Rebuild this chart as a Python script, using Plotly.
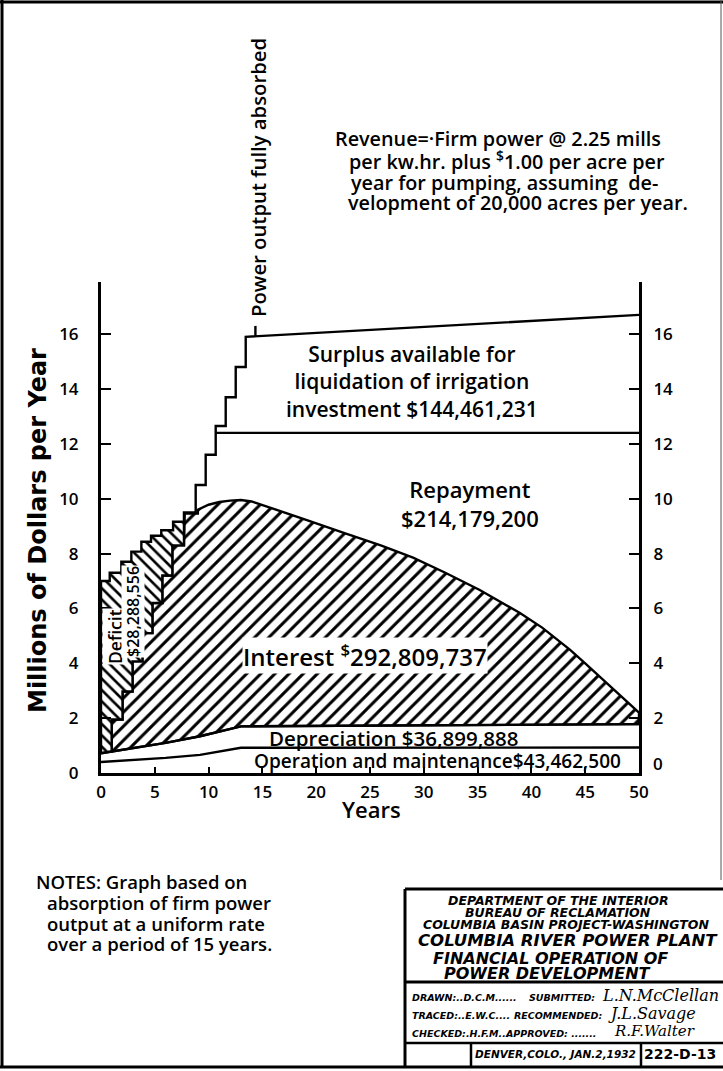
import numpy as np
import plotly.graph_objects as go

# ---------------- data (millions of dollars per year vs. years) ----------------
year_ticks = [0, 5, 10, 15, 20, 25, 30, 35, 40, 45, 50]
money_ticks = [0, 2, 4, 6, 8, 10, 12, 14, 16]

om_x = [0, 6, 9.2, 13, 50]                      # operation and maintenance (top of band)
om_y = [0.40, 0.55, 0.66, 0.92, 0.93]
dep_x = [0, 6, 9.2, 13, 50]                     # depreciation (top of band)
dep_y = [0.72, 1.10, 1.34, 1.70, 1.78]

rev_step_x = [0.99, 2.0, 2.93, 3.85, 4.78, 5.70, 6.63, 7.71, 8.80, 9.73, 10.66, 11.59, 12.52, 13.45]
rev_step_y = [1.95, 2.97, 4.07, 5.10, 6.20, 7.20, 8.30, 9.50, 10.50, 11.60, 12.65, 13.70, 14.80, 15.90]
rev_end_x, rev_end_y = 50, 16.7                 # revenue after full absorption

cost_step_x = [0, 0.81, 1.89, 2.82, 3.75, 4.65, 5.60, 6.70, 7.78]
cost_step_y = [7.00, 7.30, 7.70, 8.07, 8.43, 8.65, 8.85, 9.16, 9.46]
cost_curve_x = [9.0, 10, 11, 12, 13, 14, 16.5, 19, 22.7, 26, 29, 32, 35.2, 38.9, 41, 43.6, 45, 46.7, 48.5, 50]
cost_curve_y = [9.60, 9.78, 9.88, 9.93, 9.95, 9.90, 9.58, 9.24, 8.74, 8.30, 7.85, 7.30, 6.67, 5.84, 5.30, 4.49, 4.00, 3.40, 2.75, 2.20]

surplus_base_y = 12.4
absorbed_x = 14.35
absorbed_top = 16.3

# ---------------- helpers ----------------
def dep_at(x):
    return float(np.interp(x, dep_x, dep_y))

def cost_stair(x):
    j = max(i for i, cx in enumerate(cost_step_x) if cx <= x)
    return cost_step_y[j]

# first revenue step that meets the cost line -> end of deficit
k = next(i for i in range(len(rev_step_x)) if rev_step_y[i] >= cost_stair(rev_step_x[i]))
x_end = rev_step_x[k]

# deficit polygon
dx, dy = [0, 0], [dep_at(0), cost_step_y[0]]
for j in range(1, len(cost_step_x)):
    if cost_step_x[j] < x_end:
        dx += [cost_step_x[j], cost_step_x[j]]
        dy += [cost_step_y[j - 1], cost_step_y[j]]
dx += [x_end, x_end]
dy += [cost_stair(x_end), rev_step_y[k - 1]]
for i in range(k - 1, 0, -1):
    dx += [rev_step_x[i], rev_step_x[i]]
    dy += [rev_step_y[i], rev_step_y[i - 1]]
dx += [rev_step_x[0], rev_step_x[0]]
dy += [rev_step_y[0], dep_at(rev_step_x[0])]
for x_, y_ in zip(reversed(dep_x), reversed(dep_y)):
    if x_ < rev_step_x[0]:
        dx.append(x_); dy.append(y_)

# interest polygon
ix, iy = [rev_step_x[0], rev_step_x[0]], [dep_at(rev_step_x[0]), rev_step_y[0]]
for i in range(1, k):
    ix += [rev_step_x[i], rev_step_x[i]]
    iy += [rev_step_y[i - 1], rev_step_y[i]]
ix += [x_end, x_end]
iy += [rev_step_y[k - 1], cost_stair(x_end)]
for j in range(len(cost_step_x)):
    if cost_step_x[j] > x_end:
        ix += [cost_step_x[j], cost_step_x[j]]
        iy += [cost_step_y[j - 1], cost_step_y[j]]
ix += [cost_curve_x[0]]
iy += [cost_step_y[-1]]
ix += cost_curve_x
iy += cost_curve_y
ix += [50]
iy += [dep_at(50)]
for x_, y_ in zip(reversed(dep_x), reversed(dep_y)):
    if rev_step_x[0] < x_ < 50:
        ix.append(x_); iy.append(y_)
ix.append(rev_step_x[0]); iy.append(dep_at(rev_step_x[0]))

# revenue staircase above the cost line
rx, ry = [x_end, x_end], [cost_stair(x_end), rev_step_y[k]]
for i in range(k + 1, len(rev_step_x)):
    rx += [rev_step_x[i], rev_step_x[i]]
    ry += [rev_step_y[i - 1], rev_step_y[i]]
rx.append(rev_end_x); ry.append(rev_end_y)

surplus_start_x = next(x for x, y in zip(rev_step_x, rev_step_y) if y > surplus_base_y)
absorbed_base = float(np.interp(absorbed_x, [rev_step_x[-1], rev_end_x], [rev_step_y[-1], rev_end_y]))

# ---------------- figure ----------------
FONT = "Open Sans"
BLK = "black"
W, H = 723, 1071
L, R, T, B = 101, 639, 282, 773

def xp(px):
    return (px - L) / (R - L)

def yp(py):
    return (B - py) / (B - T)

fig = go.Figure()

fig.add_trace(go.Scatter(
    x=ix, y=iy, mode="lines", fill="toself", fillcolor="white",
    fillpattern=dict(shape="/", fgcolor=BLK, bgcolor="white", size=10, solidity=0.3, fgopacity=1),
    line=dict(color=BLK, width=2.4), hoverinfo="skip", showlegend=False))
fig.add_trace(go.Scatter(
    x=dx, y=dy, mode="lines", fill="toself", fillcolor="white",
    fillpattern=dict(shape="\\", fgcolor=BLK, bgcolor="white", size=8, solidity=0.33, fgopacity=1),
    line=dict(color=BLK, width=2.4), hoverinfo="skip", showlegend=False))
for xs, ys in [(om_x, om_y), (dep_x, dep_y), (rx, ry),
               ([surplus_start_x, 50], [surplus_base_y, surplus_base_y]),
               ([absorbed_x, absorbed_x], [absorbed_base, absorbed_top])]:
    fig.add_trace(go.Scatter(x=xs, y=ys, mode="lines", line=dict(color=BLK, width=2.4),
                             hoverinfo="skip", showlegend=False))
# carrier for right axis
fig.add_trace(go.Scatter(x=[0], y=[0], yaxis="y2", mode="markers", marker=dict(opacity=0),
                         hoverinfo="skip", showlegend=False))

annotations = []

def ann(text, px, py, size, xanchor="center", angle=0, bg=None, family=FONT, weight=600, **kw):
    d = dict(text=text, x=xp(px), y=yp(py), xref="paper", yref="paper", showarrow=False,
             xanchor=xanchor, yanchor="middle", textangle=angle,
             font=dict(family=family, size=size, color=BLK, weight=weight))
    if bg:
        d["bgcolor"] = bg
        d["borderpad"] = 0
    d.update(kw)
    annotations.append(d)

# top texts
ann("Revenue=·Firm power @ 2.25 mills", 333, 138, 19.8, "left")
ann("per kw.hr. plus <sup>$</sup>1.00 per acre per", 347, 160, 19.8, "left")
ann("year for pumping, assuming  de-", 349, 182, 19.8, "left")
ann("velopment of 20,000 acres per year.", 346, 202, 19.8, "left")
ann("Power output fully absorbed", 258, 178, 20.3, angle=-90)

# in-chart labels
ann("Surplus available for<br>liquidation of irrigation<br>investment $144,461,231", 412, 381, 21)
ann("Repayment<br>$214,179,200", 470, 503, 22)
ann("Interest <sup>$</sup>292,809,737", 365, 655, 24, bg="white")
ann("Depreciation $36,899,888", 393, 738, 20.5)
ann("Operation and maintenance$43,462,500", 437, 761, 19)
ann("Deficit", 115, 637, 17.5, angle=-90, bg="white")
ann("$28,288,556", 133, 612, 16, angle=-90, bg="white")

# axis titles and extra zero
ann("Millions of Dollars per Year", 38, 531, 24, angle=-90, family="DejaVu Sans", weight="bold")
ann("Years", 371, 809, 22)
ann("0", 651, 763, 17, "left")

# notes
ann("NOTES: Graph based on", 34, 881, 18.5, "left")
ann("absorption of firm power", 45, 902, 18.5, "left")
ann("output at a uniform rate", 45, 923, 18.5, "left")
ann("over a period of 15 years.", 45, 944, 18.5, "left")

# title block
TB = "DejaVu Sans"
def tb(text, px, py, size, xanchor="center", italic=True, weight="bold", family=TB):
    t = f"<i>{text}</i>" if italic else text
    ann(t, px, py, size, xanchor, family=family, weight=weight)

tb("DEPARTMENT OF THE INTERIOR", 558, 900, 12.5)
tb("BUREAU OF RECLAMATION", 558, 912, 12.5)
tb("COLUMBIA BASIN PROJECT-WASHINGTON", 566, 924, 12.5)
tb("COLUMBIA RIVER POWER PLANT", 568, 940, 16.5)
tb("FINANCIAL OPERATION OF", 550, 958, 16)
tb("POWER DEVELOPMENT", 547, 973, 16)
tb("DRAWN:..D.C.M......", 410, 997, 9.5, "left")
tb("SUBMITTED:", 597, 997, 9.5, "right")
tb("TRACED:..E.W.C....", 410, 1015, 9.5, "left")
tb("RECOMMENDED:", 604, 1015, 9.5, "right")
tb("CHECKED:.H.F.M...", 410, 1033, 9.5, "left")
tb("APPROVED: .......", 598, 1033, 9.5, "right")
tb("L.N.McClellan", 600, 995, 16, "left", weight="normal", family="DejaVu Serif")
tb("J.L.Savage", 606, 1013, 16, "left", weight="normal", family="DejaVu Serif")
tb("R.F.Walter", 612, 1031, 15, "left", weight="normal", family="DejaVu Serif")
tb("DENVER,COLO., JAN.2,1932", 555, 1054, 10.5)
tb("222-D-13", 680, 1054, 14, italic=False)

shapes = []

def line(x0, y0, x1, y1, w=2.5, color=BLK):
    shapes.append(dict(type="line", xref="paper", yref="paper", x0=xp(x0), y0=yp(y0),
                       x1=xp(x1), y1=yp(y1), line=dict(color=color, width=w)))

# page border
line(2, 0, 2, 1068, 3)
line(0, 2, 723, 2, 3)
line(0, 1067, 723, 1067, 3)
line(721, 0, 721, 880, 1, "#555555")
# title block
line(405, 889, 723, 889, 3)
line(405, 889, 405, 1067, 3)
line(405, 982, 723, 982, 3)
line(405, 1043, 723, 1043, 2.5)
line(471, 1043, 471, 1067, 2.5)
line(641, 1043, 641, 1067, 2.5)

axis_common = dict(showgrid=False, zeroline=False, showline=True, linecolor=BLK, linewidth=3,
                   ticks="inside", tickcolor=BLK, tickwidth=2,
                   tickfont=dict(family=FONT, size=17, color=BLK, weight=600))

fig.update_layout(
    width=W, height=H,
    margin=dict(l=L, r=W - R, t=T, b=H - B, pad=0),
    paper_bgcolor="white", plot_bgcolor="white",
    showlegend=False,
    xaxis=dict(range=[0, 50], tickvals=year_ticks, ticklen=6, ticklabelstandoff=2, **axis_common),
    yaxis=dict(range=[0, 17.9], tickvals=money_ticks, ticklen=10, ticklabelstandoff=16,
               **axis_common),
    yaxis2=dict(range=[0, 17.9], tickvals=money_ticks[1:], ticklen=10, overlaying="y",
                side="right", anchor="x", ticklabelstandoff=8, **axis_common),
    annotations=annotations,
    shapes=shapes,
)

fig.write_html("out.html", config={"displayModeBar": False},
               post_script="document.body.style.margin='0px';document.body.style.overflow='hidden';")
